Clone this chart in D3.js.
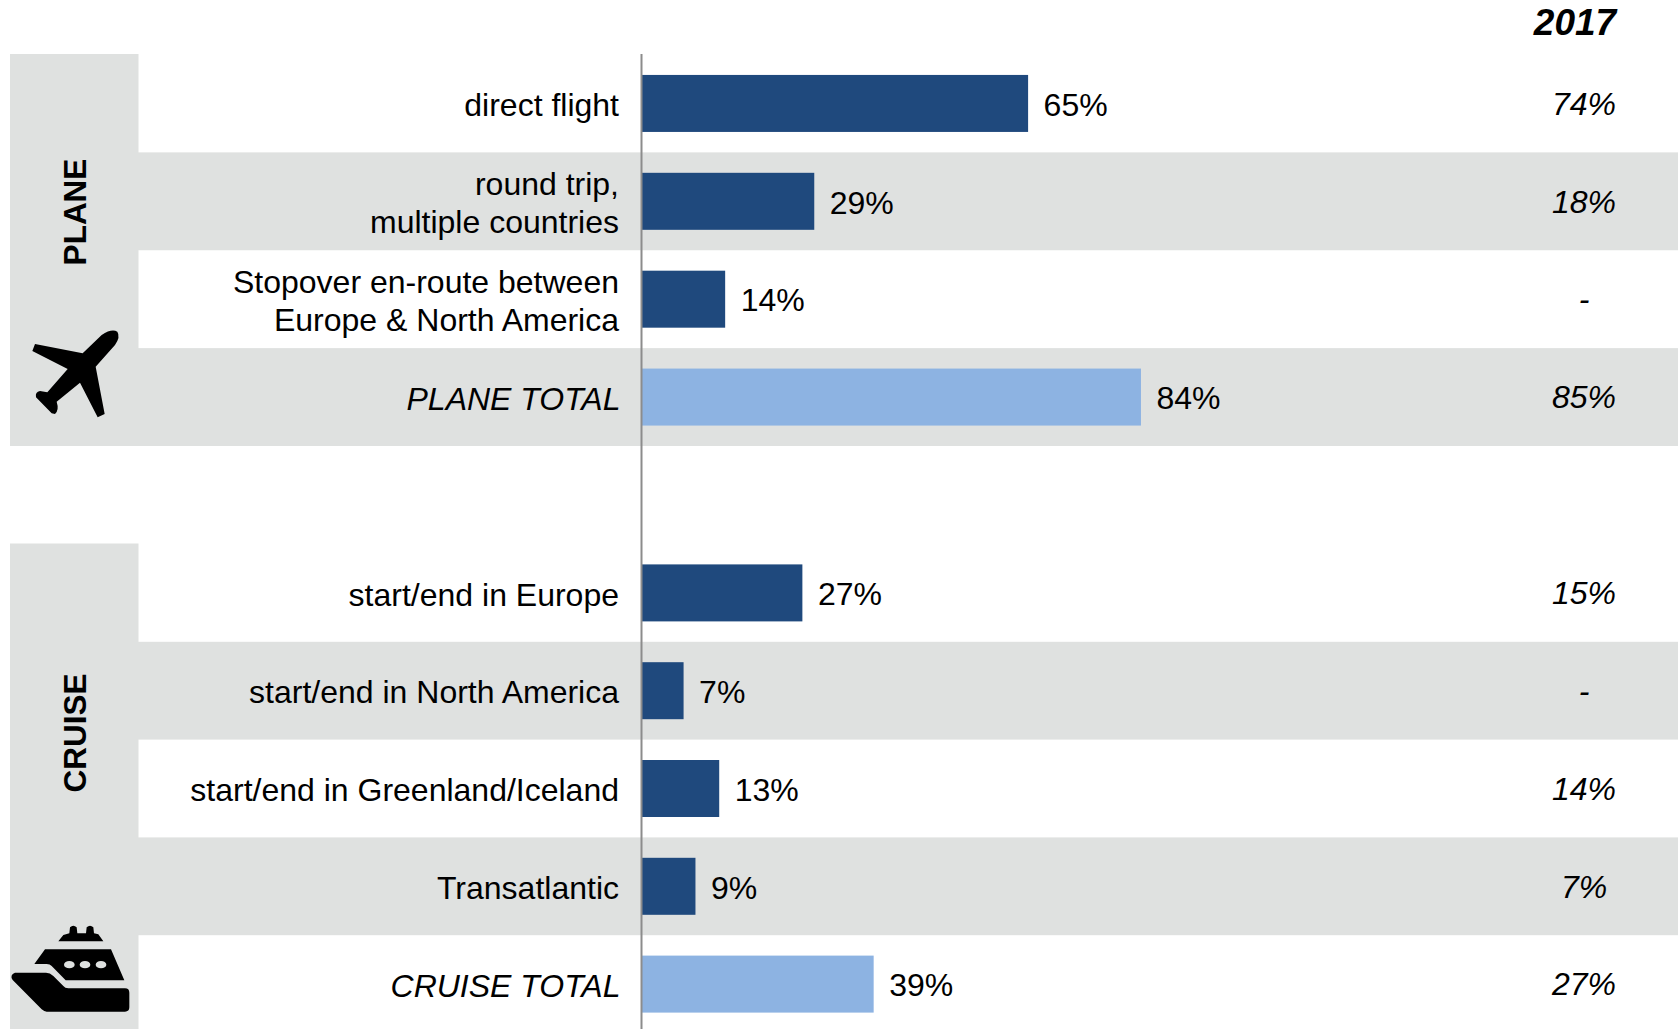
<!DOCTYPE html>
<html>
<head>
<meta charset="utf-8">
<script src="https://cdn.jsdelivr.net/npm/d3@7"></script>
<style>
html,body{margin:0;padding:0;background:#fff;overflow:hidden}
svg{display:block;font-family:"Liberation Sans",Arial,sans-serif}
</style>
</head>
<body>
<svg id="chart" width="1678" height="1029"></svg>
<script>
// Trip types, share of respondents, by mode of travel
const planeLabels = ["direct flight", "round trip,\nmultiple countries", "Stopover en-route between\nEurope & North America", "PLANE TOTAL"];
const planeValues = [65, 29, 14, 84];
const planePrior = ["74%", "18%", "-", "85%"];

const cruiseLabels = ["start/end in Europe", "start/end in North America", "start/end in Greenland/Iceland", "Transatlantic", "CRUISE TOTAL"];
const cruiseValues = [27, 7, 13, 9, 39];
const cruisePrior = ["15%", "-", "14%", "7%", "27%"];

const priorYear = "2017";

const GREY = "#dfe1e0", DARK = "#1f497d", LIGHT = "#8db3e2";
const svg = d3.select("#chart");
const axisX = 642;
const x = d3.scaleLinear().domain([0, 100]).range([axisX, axisX + 594]);

const planeIcon = "M248,160 L305,105 Q335,85 352,95 Q362,110 345,135 L287,200 L314,342 L293,352 L240,248 L170,305 Q178,330 165,342 L155,340 L108,292 Q105,275 120,273 L142,277 L203,207 L97,153 L105,132 Z";
const shipIcon = "M175,124 L190,105 L208,100 L210,82 Q220,72 230,82 L232,100 L258,100 L260,82 Q270,72 280,82 L282,100 L295,103 L310,124 Z " +
  "M135,148 L333,148 L373,241 L197,241 L155,198 Q150,192 140,192 L103,192 Z " +
  "M45,218 L138,218 Q150,218 160,228 L190,258 Q195,265 205,265 L375,265 Q388,265 388,278 L388,322 Q388,335 375,335 L140,335 Q133,335 125,328 L38,240 Q28,225 45,218 Z";

function drawGroup(g) {
  const y = d3.scaleBand().domain(g.labels).range(g.range).paddingInner(0);
  const barH = 57;
  const rows = g.labels.map((label, i) => ({
    label, value: g.values[i], prior: g.prior[i], i,
    total: /TOTAL/.test(label)
  }));

  // Left block holding the mode name and its icon
  svg.append("rect").attr("x", 10).attr("y", g.range[0] - 0.5).attr("width", 128.5)
    .attr("height", g.range[1] - g.range[0] + 0.5).attr("fill", GREY);

  // Alternating row bands
  svg.append("g").selectAll("rect").data(rows.filter(r => r.i % 2 === 1)).join("rect")
    .attr("x", 138).attr("width", 1678 - 138)
    .attr("y", d => y(d.label)).attr("height", y.bandwidth())
    .attr("fill", GREY);

  // Bars
  svg.append("g").selectAll("rect").data(rows).join("rect")
    .attr("x", x(0)).attr("width", d => x(d.value) - x(0))
    .attr("y", d => y(d.label) + (y.bandwidth() - barH) / 2).attr("height", barH)
    .attr("fill", d => d.total ? LIGHT : DARK);

  // Category labels, one or two lines
  const cats = svg.append("g").attr("font-size", 32).attr("fill", "#000").attr("text-anchor", "end");
  rows.forEach(d => {
    const lines = d.label.split("\n");
    const cy = y(d.label) + y.bandwidth() / 2 + 1.5;
    lines.forEach((line, k) => {
      cats.append("text").attr("x", d.total ? 620.5 : 619)
        .attr("y", cy + (k - (lines.length - 1) / 2) * 37.8)
        .attr("dy", "0.35em")
        .attr("font-style", d.total ? "italic" : "normal")
        .text(line);
    });
  });

  // Value labels beside the bars
  svg.append("g").attr("font-size", 32).attr("fill", "#000").selectAll("text").data(rows).join("text")
    .attr("x", d => x(d.value) + 15.5)
    .attr("y", d => y(d.label) + y.bandwidth() / 2 + 1)
    .attr("dy", "0.35em")
    .text(d => d.value + "%");

  // Prior-year column
  svg.append("g").attr("font-size", 32).attr("font-style", "italic").attr("fill", "#000")
    .attr("text-anchor", "middle").selectAll("text").data(rows).join("text")
    .attr("x", 1584)
    .attr("y", d => y(d.label) + y.bandwidth() / 2)
    .attr("dy", "0.35em")
    .text(d => d.prior);

  // Rotated mode name
  svg.append("text")
    .attr("transform", `translate(75,${g.nameY}) rotate(-90)`)
    .attr("text-anchor", "middle").attr("dy", "0.35em")
    .attr("font-size", 31.5).attr("font-weight", "bold").attr("fill", "#000")
    .text(g.name);

  // Icon, drawn in a 3x local grid
  svg.append("path").attr("d", g.icon).attr("fill", "#000")
    .attr("transform", `translate(0,${g.iconY}) scale(${1 / 3})`);
  (g.windows || []).forEach(cx => {
    svg.append("ellipse").attr("cx", cx / 3).attr("cy", g.iconY + 194 / 3)
      .attr("rx", 16 / 3).attr("ry", 11 / 3).attr("fill", GREY);
  });
}

drawGroup({
  name: "PLANE", labels: planeLabels, values: planeValues, prior: planePrior,
  range: [54.5, 446], nameY: 212, icon: planeIcon, iconY: 300
});
drawGroup({
  name: "CRUISE", labels: cruiseLabels, values: cruiseValues, prior: cruisePrior,
  range: [544, 1033], nameY: 733, icon: shipIcon, iconY: 900, windows: [208, 255, 303]
});

// Baseline shared by both groups
svg.append("line").attr("x1", axisX - 0.5).attr("x2", axisX - 0.5).attr("y1", 54).attr("y2", 1029)
  .attr("stroke", "#8c8c8c").attr("stroke-width", 2);

// Column heading
svg.append("text").attr("x", 1575).attr("y", 22.5).attr("dy", "0.35em")
  .attr("text-anchor", "middle").attr("font-size", 37)
  .attr("font-weight", "bold").attr("font-style", "italic").attr("fill", "#000")
  .text(priorYear);
</script>
</body>
</html>
